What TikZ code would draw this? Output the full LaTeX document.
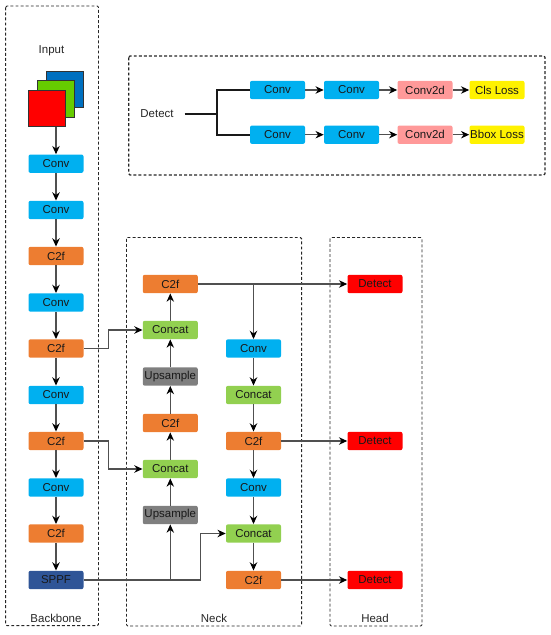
\documentclass[tikz,border=0pt]{standalone}
\usepackage{fontspec}
\setmainfont{Liberation Sans}
\usetikzlibrary{arrows.meta, positioning, calc}
\definecolor{ConvBlue}{HTML}{00B0F0}
\definecolor{CfOrange}{HTML}{ED7D31}
\definecolor{ConcatGreen}{HTML}{92D050}
\definecolor{UpGray}{HTML}{7F7F7F}
\definecolor{SppfBlue}{HTML}{2F5597}
\definecolor{PinkConv}{HTML}{FF9999}
\definecolor{LineGray}{HTML}{505050}
\definecolor{ChannelBlue}{HTML}{0070C0}
\definecolor{ChannelGreen}{HTML}{66CC00}
\tikzset{
    block/.style={rounded corners=1.5pt, minimum width=41.25pt, minimum height=13.8pt, inner sep=0pt, text=black!90, font=\fontsize{8.6}{10}\selectfont},
    convbox/.style={block, fill=ConvBlue},
    cfbox/.style={block, fill=CfOrange},
    concatbox/.style={block, fill=ConcatGreen},
    upbox/.style={block, fill=UpGray},
    sppfbox/.style={block, fill=SppfBlue},
    detectbox/.style={block, fill=red},
    pinkbox/.style={block, fill=PinkConv},
    lossbox/.style={block, fill=yellow},
    frame/.style={draw=black!85, dash pattern=on 2.2pt off 1.6pt, line width=0.7pt, rounded corners=1pt},
    caption/.style={font=\fontsize{8.6}{10}\selectfont, text=black!85},
    link/.style={->, draw=LineGray, line width=0.8pt},
    square/.style={draw=black!80, line width=0.7pt, minimum size=27.5pt, inner sep=0pt},
}
\begin{document}
\begin{tikzpicture}[>={Stealth[length=6.2pt,width=5.6pt,color=black]}, x=0.75pt, y=-0.75pt]
        \useasboundingbox (0,0) rectangle (550,635);
        % Dashed frames
        \draw [frame] (5.7,6) rectangle (98.5,625.7);
        \draw [frame] (126.5,237.5) rectangle (301.7,626);
        \draw [frame] (330,237.5) rectangle (422,626);
        \draw [frame, line width=0.9pt] (128.7,56) rectangle (545,175);
        \node [caption] (backbonelabel) at (56,618.5) {Backbone};
        \node [caption] (necklabel) at (214,618.5) {Neck};
        \node [caption] (headlabel) at (375,618.5) {Head};
        \node [caption] (inputlabel) at (51.5,51) {Input};
        % Input channels
        \node [square, fill=ChannelBlue] (chblue) at (65.1,89.5) {};
        \node [square, fill=ChannelGreen] (chgreen) at (56,98.8) {};
        \node [square, fill=red] (chred) at (46.7,108.4) {};
        % Backbone
        \node [convbox] (bconva) at (56,163.7) {Conv};
        \node [convbox] (bconvb) at (56,210) {Conv};
        \node [cfbox] (bcfa) at (56,256) {C2f};
        \node [convbox] (bconvc) at (56,302.5) {Conv};
        \node [cfbox] (bcfb) at (56,348.5) {C2f};
        \node [convbox] (bconvd) at (56,395) {Conv};
        \node [cfbox] (bcfc) at (56,441) {C2f};
        \node [convbox] (bconve) at (56,487.5) {Conv};
        \node [cfbox] (bcfd) at (56,533.5) {C2f};
        \node [sppfbox] (sppf) at (56,580) {SPPF};
        % Neck, left column
        \node [cfbox] (ncfa) at (170.3,284) {C2f};
        \node [concatbox] (ncata) at (170.3,330) {Concat};
        \node [upbox] (nupa) at (170.3,376.5) {Upsample};
        \node [cfbox] (ncfb) at (170.3,423) {C2f};
        \node [concatbox] (ncatb) at (170.3,469) {Concat};
        \node [upbox] (nupb) at (170.3,515) {Upsample};
        % Neck, right column
        \node [convbox] (nconva) at (253.5,348.5) {Conv};
        \node [concatbox] (ncatc) at (253.5,395) {Concat};
        \node [cfbox] (ncfc) at (253.5,441) {C2f};
        \node [convbox] (nconvb) at (253.5,487.5) {Conv};
        \node [concatbox] (ncatd) at (253.5,533.5) {Concat};
        \node [cfbox] (ncfd) at (253.5,580) {C2f};
        % Head
        \node [detectbox] (heada) at (375,284) {Detect};
        \node [detectbox] (headb) at (375,441) {Detect};
        \node [detectbox] (headc) at (375,580) {Detect};
        % Detect branches
        \node [caption] (detectlabel) at (157,114) {Detect};
        \coordinate (stem) at (184.5,114);
        \coordinate (fork) at (216.7,114);
        \node [convbox] (tconva) at (277.5,90) {Conv};
        \node [convbox] (tconvb) at (351.5,90) {Conv};
        \node [pinkbox] (tpinka) at (425,90) {Conv2d};
        \node [lossbox] (clsloss) at (497,90) {Cls Loss};
        \node [convbox] (uconva) at (277.5,134.7) {Conv};
        \node [convbox] (uconvb) at (351.5,134.7) {Conv};
        \node [pinkbox] (upinka) at (425,134.7) {Conv2d};
        \node [lossbox] (bboxloss) at (497,134.7) {Bbox Loss};
        \draw [line width=1.5pt, black!90] (stem) -- (fork);
        \draw [line width=1.5pt, black!90] (tconva.west) -| (fork) |- (uconva.west);
        \draw [link] (tconva) -- (tconvb);
        \draw [link] (tconvb) -- (tpinka);
        \draw [link] (tpinka) -- (clsloss);
        \draw [link] (uconva) -- (uconvb);
        \draw [link] (uconvb) -- (upinka);
        \draw [link] (upinka) -- (bboxloss);
        % Backbone arrows
        \draw [link] (chred.south -| bconva.north) -- (bconva);
        \draw [link] (bconva) -- (bconvb);
        \draw [link] (bconvb) -- (bcfa);
        \draw [link] (bcfa) -- (bconvc);
        \draw [link] (bconvc) -- (bcfb);
        \draw [link] (bcfb) -- (bconvd);
        \draw [link] (bconvd) -- (bcfc);
        \draw [link] (bcfc) -- (bconve);
        \draw [link] (bconve) -- (bcfd);
        \draw [link] (bcfd) -- (sppf);
        % Neck arrows
        \draw [link] (nupb) -- (ncatb);
        \draw [link] (ncatb) -- (ncfb);
        \draw [link] (ncfb) -- (nupa);
        \draw [link] (nupa) -- (ncata);
        \draw [link] (ncata) -- (ncfa);
        \draw [link] (nconva) -- (ncatc);
        \draw [link] (ncatc) -- (ncfc);
        \draw [link] (ncfc) -- (nconvb);
        \draw [link] (nconvb) -- (ncatd);
        \draw [link] (ncatd) -- (ncfd);
        \draw [link] (ncfa.east -| nconva.north) -- (nconva);
        % Links across the frames
        \draw [link] (bcfb.east) -- ++(24.5,0) |- (ncata.west);
        \draw [link] (bcfc.east) -- ++(24.5,0) |- (ncatb.west);
        \draw [link] (sppf.east) -| (nupb.south);
        \draw [link] (sppf.east) -- ++(116.5,0) |- (ncatd.west);
        \draw [link] (ncfa) -- (heada);
        \draw [link] (ncfc) -- (headb);
        \draw [link] (ncfd) -- (headc);
    \end{tikzpicture}
\end{document}
